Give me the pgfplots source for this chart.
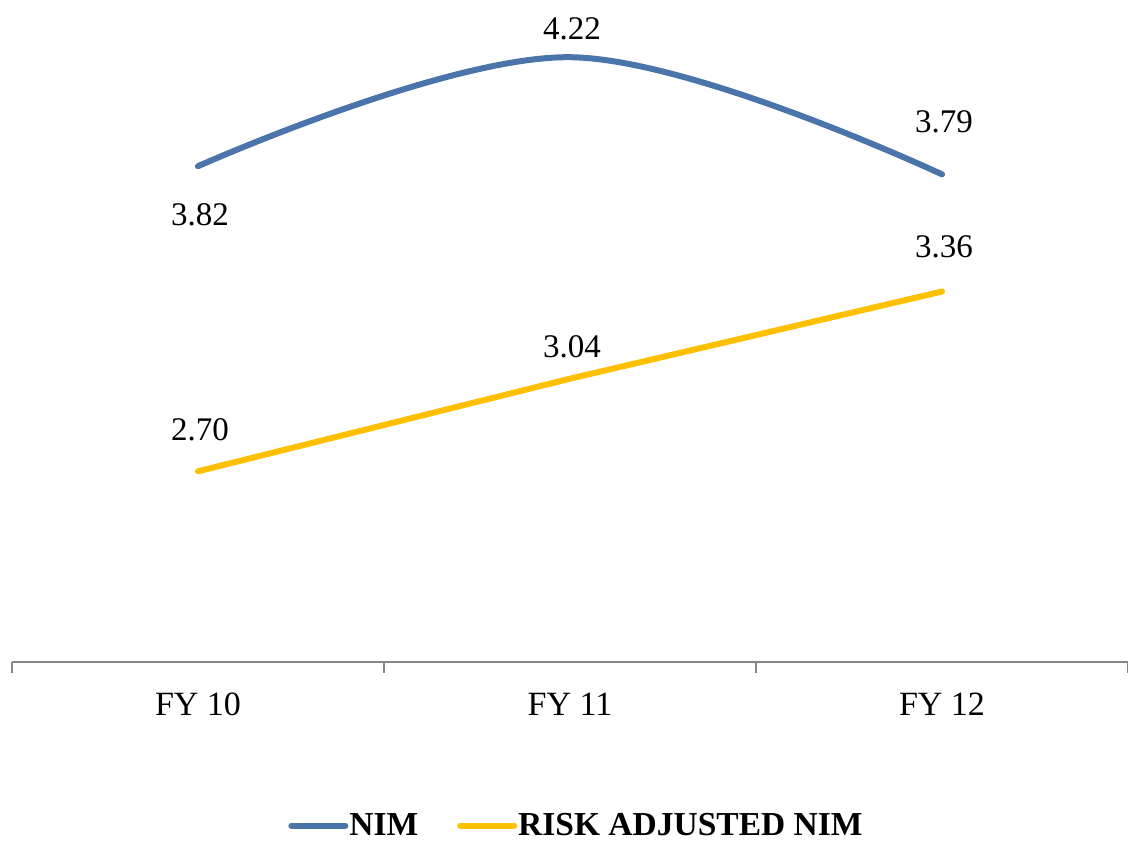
\documentclass[border=0pt]{standalone}
\usepackage{pgfplots}
\usepackage{pgfplotstable}
\pgfplotsset{compat=1.18}
\usepackage{fontspec}
\setmainfont{Liberation Serif}
\definecolor{nimblue}{HTML}{4A74AA}
\definecolor{riskgold}{HTML}{FFC000}
\definecolor{axgray}{HTML}{878787}
\pgfplotstableread{
x y lab dy
0 3.82 3.82 -49
1 4.22 4.22 28
2 3.79 3.79 53
}\nimdata
\pgfplotstableread{
x y lab dy
0 2.70 2.70 42
1 3.04 3.04 32
2 3.36 3.36 45
}\riskdata
\begin{document}
\begin{tikzpicture}
\begin{axis}[
  name=ax,
  scale only axis,
  width=1116pt, height=662pt,
  xmin=-0.5, xmax=2.5,
  ymin=2, ymax=4.43,
  axis x line*=bottom,
  axis y line=none,
  x axis line style={-, draw=axgray, line width=1.2pt},
  xtick={0,1,2},
  xticklabels={FY 10, FY 11, FY 12},
  major x tick style={draw=none},
  minor xtick={-0.5,0.5,1.5,2.5},
  minor x tick style={draw=axgray, line width=1.2pt},
  minor tick length=11pt,
  tick align=outside,
  xticklabel style={font=\fontsize{34}{40}\selectfont, yshift=-23pt},
  clip=false,
  legend style={at={(axis description cs:0.5,-0.247)}, anchor=center, draw=none,
    xshift=6pt,
    font=\fontsize{33.5}{38}\selectfont\bfseries, legend columns=2,
    nodes={inner sep=1pt},
    /tikz/every even column/.append style={column sep=38pt}},
  legend image code/.code={\draw[#1, line cap=round] (0pt,0pt) -- (54pt,0pt);},
  nodes near coords,
  point meta=explicit symbolic,
  visualization depends on={\thisrow{dy} \as \dy},
  every node near coord/.append style={font=\fontsize{33}{38}\selectfont, text=black,
    anchor=center, yshift=\dy pt, xshift=2pt},
]
\addplot[nimblue, line width=6pt, smooth, tension=0.6, line cap=round, mark=none]
  table[x=x, y=y, meta=lab] {\nimdata};
\addlegendentry{NIM}
\addplot[riskgold, line width=6pt, line cap=round, mark=none]
  table[x=x, y=y, meta=lab] {\riskdata};
\addlegendentry{RISK ADJUSTED NIM}
\end{axis}
\pgfresetboundingbox
\path ([xshift=-12pt,yshift=-179pt]ax.south west) rectangle (ax.north east);
\end{tikzpicture}
\end{document}
